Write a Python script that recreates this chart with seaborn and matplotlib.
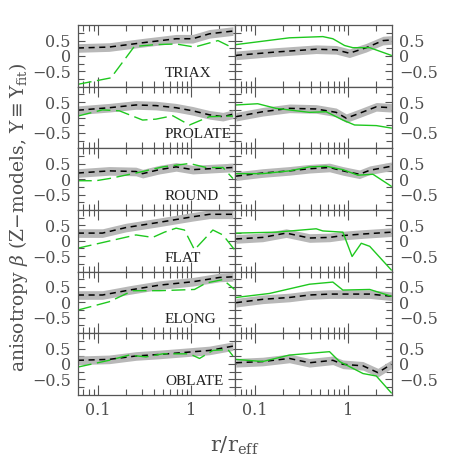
import matplotlib
matplotlib.use("Agg")
import numpy as np
import seaborn as sns
import matplotlib.pyplot as plt
from matplotlib.ticker import FixedLocator, FixedFormatter, LogLocator, NullFormatter

# models shown in each row
models = ["TRIAX", "PROLATE", "ROUND", "FLAT", "ELONG", "OBLATE"]

# --- left column: fitted beta (black) and true beta (green dashed) ---
triax_l_r = [0.061, 0.132, 0.302, 0.69, 1.04, 1.57, 2.81]
triax_l_b = [0.26, 0.29, 0.43, 0.56, 0.56, 0.72, 0.81]
triax_l_gr = [0.061, 0.138, 0.246, 0.42, 0.69, 1.09, 1.94, 2.81]
triax_l_gb = [-0.92, -0.71, 0.31, 0.37, 0.39, 0.29, 0.50, 0.26]

prolate_l_r = [0.061, 0.132, 0.256, 0.42, 0.69, 1.04, 1.57, 2.19, 2.81]
prolate_l_b = [0.24, 0.32, 0.41, 0.39, 0.32, 0.22, 0.09, 0.03, 0.11]
prolate_l_gr = [0.061, 0.112, 0.170, 0.302, 0.42, 0.635, 0.96, 1.57, 2.81]
prolate_l_gb = [0.05, 0.25, 0.22, -0.08, -0.05, 0.06, -0.24, 0.03, 0.05]

round_l_r = [0.061, 0.132, 0.256, 0.302, 0.456, 0.69, 1.04, 1.57, 2.81]
round_l_b = [0.20, 0.27, 0.25, 0.18, 0.31, 0.40, 0.31, 0.34, 0.38]
round_l_gr = [0.061, 0.0952, 0.132, 0.256, 0.496, 0.96, 1.45, 2.19, 2.81]
round_l_gb = [-0.05, -0.05, 0.02, 0.20, 0.40, 0.51, 0.38, 0.38, 0.02]

flat_l_r = [0.061, 0.112, 0.2, 0.456, 1.04, 1.57, 2.81]
flat_l_b = [0.25, 0.25, 0.43, 0.60, 0.78, 0.86, 0.86]
flat_l_gr = [0.061, 0.256, 0.387, 0.517, 0.69, 0.848, 1.086, 1.71, 2.19, 2.92]
flat_l_gb = [-0.24, 0.19, 0.11, 0.28, 0.41, 0.35, -0.29, 0.35, 0.19, -0.29]

elong_l_r = [0.061, 0.112, 0.217, 0.456, 1.04, 2.02, 2.81]
elong_l_b = [0.24, 0.24, 0.40, 0.56, 0.67, 0.81, 0.83]
elong_l_gr = [0.061, 0.132, 0.236, 0.456, 1.086, 1.45, 2.19, 2.92]
elong_l_gb = [-0.25, 0.02, 0.38, 0.38, 0.42, 0.63, 0.74, 0.42]

oblate_l_r = [0.061, 0.132, 0.256, 0.456, 0.814, 1.57, 2.81]
oblate_l_b = [0.12, 0.15, 0.26, 0.31, 0.37, 0.44, 0.58]
oblate_l_gr = [0.061, 0.132, 0.217, 0.328, 0.496, 0.96, 1.23, 1.71, 2.48, 2.81]
oblate_l_gb = [-0.10, 0.12, 0.29, 0.23, 0.33, 0.33, 0.18, 0.44, 0.47, 0.26]

# --- right column: fitted beta (black) and true beta (green solid) ---
triax_r_r = [0.0625, 0.168, 0.453, 0.743, 1.03, 1.56, 2.36, 2.9]
triax_r_b = [0.02, 0.13, 0.22, 0.20, 0.09, 0.27, 0.50, 0.52]
triax_r_gr = [0.0625, 0.234, 0.534, 0.684, 0.914, 1.12, 1.70, 2.9]
triax_r_gb = [0.37, 0.59, 0.63, 0.56, 0.34, 0.27, 0.27, 0.02]

prolate_r_r = [0.0625, 0.121, 0.234, 0.453, 0.743, 0.952, 1.32, 2.0, 2.9]
prolate_r_b = [0.03, 0.19, 0.30, 0.28, 0.17, -0.02, 0.14, 0.35, 0.32]
prolate_r_gr = [0.0625, 0.107, 0.168, 0.384, 0.58, 0.876, 1.17, 2.0, 2.9]
prolate_r_gb = [0.41, 0.45, 0.30, 0.17, 0.19, -0.08, -0.24, -0.26, -0.34]

round_r_r = [0.0625, 0.121, 0.234, 0.384, 0.63, 0.876, 1.32, 1.70, 2.9]
round_r_b = [0.10, 0.20, 0.27, 0.34, 0.38, 0.27, 0.16, 0.29, 0.42]
round_r_gr = [0.0625, 0.121, 0.234, 0.384, 0.58, 0.876, 1.27, 1.84, 2.9]
round_r_gb = [0.18, 0.18, 0.27, 0.40, 0.42, 0.31, 0.13, 0.16, -0.23]

flat_r_r = [0.0625, 0.121, 0.216, 0.384, 0.63, 0.876, 1.44, 2.9]
flat_r_b = [0.06, 0.11, 0.25, 0.09, 0.11, 0.17, 0.22, 0.28]
flat_r_gr = [0.0625, 0.168, 0.453, 0.534, 0.876, 1.10, 1.38, 1.70, 2.9]
flat_r_gb = [0.25, 0.28, 0.39, 0.32, 0.28, -0.51, -0.08, -0.18, -0.95]

elong_r_r = [0.0625, 0.121, 0.234, 0.384, 0.63, 1.03, 1.70, 2.9]
elong_r_b = [-0.01, 0.10, 0.16, 0.24, 0.27, 0.27, 0.27, 0.20]
elong_r_gr = [0.0625, 0.143, 0.384, 0.684, 0.876, 1.70, 2.9]
elong_r_gb = [0.16, 0.29, 0.59, 0.66, 0.40, 0.42, 0.20]

oblate_r_r = [0.0625, 0.121, 0.234, 0.384, 0.684, 0.876, 1.44, 2.08, 2.9]
oblate_r_b = [0.04, 0.08, 0.18, 0.04, 0.12, -0.01, -0.06, -0.28, -0.01]
oblate_r_gr = [0.0625, 0.121, 0.234, 0.63, 0.807, 1.44, 2.0, 2.9]
oblate_r_gb = [0.15, 0.08, 0.29, 0.40, 0.08, -0.31, -0.39, -0.94]

# half width of the grey error band
band = 0.14

left_col = [
    (triax_l_r, triax_l_b, triax_l_gr, triax_l_gb),
    (prolate_l_r, prolate_l_b, prolate_l_gr, prolate_l_gb),
    (round_l_r, round_l_b, round_l_gr, round_l_gb),
    (flat_l_r, flat_l_b, flat_l_gr, flat_l_gb),
    (elong_l_r, elong_l_b, elong_l_gr, elong_l_gb),
    (oblate_l_r, oblate_l_b, oblate_l_gr, oblate_l_gb),
]
right_col = [
    (triax_r_r, triax_r_b, triax_r_gr, triax_r_gb),
    (prolate_r_r, prolate_r_b, prolate_r_gr, prolate_r_gb),
    (round_r_r, round_r_b, round_r_gr, round_r_gb),
    (flat_r_r, flat_r_b, flat_r_gr, flat_r_gb),
    (elong_r_r, elong_r_b, elong_r_gr, elong_r_gb),
    (oblate_r_r, oblate_r_b, oblate_r_gr, oblate_r_gb),
]

sns.set_style("ticks")
plt.rcParams["font.family"] = "serif"
plt.rcParams["font.serif"] = ["DejaVu Serif", "Liberation Serif"]
plt.rcParams["mathtext.fontset"] = "dejavuserif"

frame = "#555555"
green = "#1fc81f"

fig, axes = plt.subplots(6, 2, figsize=(4.58, 4.58), dpi=100, sharex=True, sharey=True)
fig.subplots_adjust(left=0.170, right=0.856, top=0.945, bottom=0.138, hspace=0, wspace=0)

for i in range(6):
    for j, col in enumerate([left_col, right_col]):
        ax = axes[i, j]
        r, b, gr, gb = col[i]
        b = np.array(b)
        ax.fill_between(r, b - band, b + band, color="#b8b8b8", lw=0)
        sns.lineplot(x=r, y=b, ax=ax, color="black", lw=1.1, sort=False, estimator=None)
        ax.lines[-1].set_dashes([4, 3])
        sns.lineplot(x=gr, y=gb, ax=ax, color=green, lw=1.0, sort=False, estimator=None)
        if j == 0:
            ax.lines[-1].set_dashes([10, 4])

        ax.set_xscale("log")
        ax.set_xlim(0.061, 2.95)
        ax.set_ylim(-1, 1)
        ax.set_xlabel("")
        ax.set_ylabel("")
        for s in ax.spines.values():
            s.set_visible(True)
            s.set_color(frame)
            s.set_linewidth(0.9)

        ax.yaxis.set_major_locator(FixedLocator([-0.5, 0, 0.5]))
        ax.yaxis.set_major_formatter(FixedFormatter(["\u22120.5", "0", "0.5"]))
        ax.yaxis.set_minor_locator(FixedLocator([-0.75, -0.25, 0.25, 0.75]))
        ax.xaxis.set_major_locator(FixedLocator([0.1, 1]))
        ax.xaxis.set_major_formatter(FixedFormatter(["0.1", "1"]))
        ax.xaxis.set_minor_locator(LogLocator(base=10, subs=np.arange(2, 10)))
        ax.xaxis.set_minor_formatter(NullFormatter())

        ax.tick_params(axis="both", which="both", direction="in", top=True, bottom=True,
                       left=True, right=True, color=frame, width=0.8,
                       labelsize=11.5, labelcolor="#505050", pad=5)
        ax.tick_params(axis="x", which="major", length=7)
        ax.tick_params(axis="x", which="minor", length=4.5)
        ax.tick_params(axis="y", which="major", length=5)
        ax.tick_params(axis="y", which="minor", length=4)
        ax.tick_params(axis="y", labelleft=(j == 0), labelright=(j == 1))
        ax.tick_params(axis="x", labelbottom=(i == 5), labeltop=False)

        if j == 0:
            ax.text(0.554, 0.22, models[i], transform=ax.transAxes, ha="left", va="center",
                    fontsize=11, color="#222222", family="Liberation Serif")

fig.text(0.040, 0.525, r"anisotropy $\beta$ (Z$-$models, $\Upsilon\equiv\Upsilon_{\rm fit}$)",
         rotation=90, ha="center", va="center", fontsize=13.5, color="#505050")
fig.text(0.513, 0.027, r"r/r$_{\rm eff}$", ha="center", va="center", fontsize=15, color="#505050")

fig.savefig("out.png", dpi=100)
